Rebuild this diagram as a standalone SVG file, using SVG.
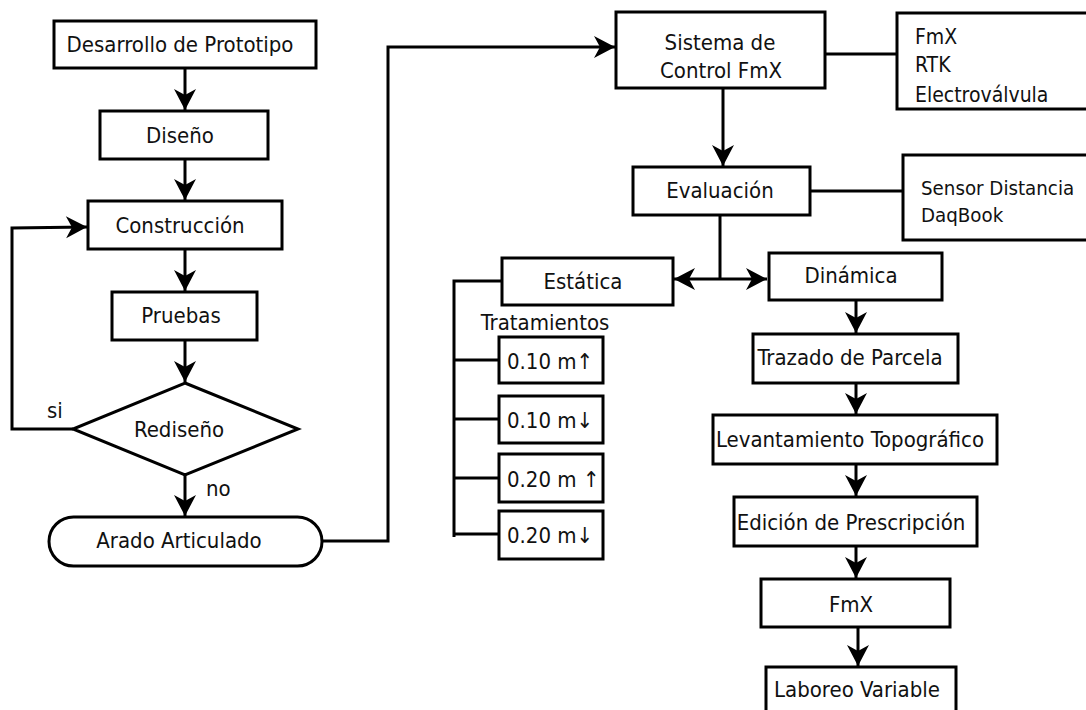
<svg xmlns="http://www.w3.org/2000/svg" width="1086" height="710" viewBox="0 0 1086 710">
<style>
.b{fill:#fff;stroke:#000;stroke-width:3}
.c{fill:none;stroke:#000;stroke-width:3}
text{font-family:"DejaVu Sans Condensed","DejaVu Sans",sans-serif;font-stretch:condensed;font-size:22px;fill:#111}
.m{text-anchor:middle}
.s{font-size:21px}
.s2{font-size:20.3px}
</style>
<defs>
<marker id="ar" markerUnits="userSpaceOnUse" viewBox="-22 -12 24 24" refX="0" refY="0" markerWidth="24" markerHeight="24" orient="auto-start-reverse">
<path d="M0,0 L-21,-11 L-15,0 L-21,11 Z" fill="#000"/>
</marker>
</defs>
<rect width="1086" height="710" fill="#fff"/>
<g id="connectors">
<line class="c" x1="185" y1="68" x2="185" y2="110" marker-end="url(#ar)"/>
<line class="c" x1="185" y1="159" x2="185" y2="200" marker-end="url(#ar)"/>
<line class="c" x1="185" y1="249" x2="185" y2="291" marker-end="url(#ar)"/>
<line class="c" x1="185" y1="340" x2="185" y2="382" marker-end="url(#ar)"/>
<line class="c" x1="185" y1="475" x2="185" y2="516" marker-end="url(#ar)"/>
<polyline class="c" points="73,429 12,429 12,228 87,227" marker-end="url(#ar)"/>
<polyline class="c" points="322,541 388,541 388,47 615,47" marker-end="url(#ar)"/>
<line class="c" x1="825" y1="54" x2="897" y2="54"/>
<line class="c" x1="723" y1="88" x2="723" y2="166" marker-end="url(#ar)"/>
<line class="c" x1="810" y1="191" x2="903" y2="191"/>
<line class="c" x1="720" y1="215" x2="720" y2="279"/>
<line class="c" x1="674" y1="279" x2="767" y2="279" marker-start="url(#ar)" marker-end="url(#ar)"/>
<polyline class="c" points="502,281 454,281 454,537"/>
<line class="c" x1="454" y1="360" x2="499" y2="360"/>
<line class="c" x1="454" y1="419" x2="499" y2="419"/>
<line class="c" x1="454" y1="478" x2="499" y2="478"/>
<line class="c" x1="454" y1="534" x2="499" y2="534"/>
<line class="c" x1="856" y1="300" x2="856" y2="333" marker-end="url(#ar)"/>
<line class="c" x1="856" y1="383" x2="856" y2="414" marker-end="url(#ar)"/>
<line class="c" x1="856" y1="464" x2="856" y2="496" marker-end="url(#ar)"/>
<line class="c" x1="856" y1="546" x2="856" y2="578" marker-end="url(#ar)"/>
<line class="c" x1="858" y1="627" x2="858" y2="666" marker-end="url(#ar)"/>
</g>
<g id="desarrollo"><rect class="b" x="54" y="21" width="262" height="47"/><text class="m" x="180" y="52">Desarrollo de Prototipo</text></g>
<g id="diseno"><rect class="b" x="100" y="111" width="168" height="48"/><text class="m" x="180" y="143">Diseño</text></g>
<g id="construccion"><rect class="b" x="88" y="201" width="194" height="48"/><text class="m" x="180" y="233">Construcción</text></g>
<g id="pruebas"><rect class="b" x="112" y="292" width="145" height="48"/><text class="m" x="181" y="323">Pruebas</text></g>
<g id="rediseno"><polygon class="b" points="185,383 298,429 185,475 73,429"/><text class="m" x="179" y="437">Rediseño</text></g>
<g id="label-si"><text x="47" y="418">si</text></g>
<g id="label-no"><text x="206" y="496">no</text></g>
<g id="arado"><rect class="b" x="49" y="517" width="273" height="49" rx="24.5"/><text class="m" x="179" y="548">Arado Articulado</text></g>
<g id="sistema"><rect class="b" x="616" y="12" width="209" height="76"/><text class="m" x="720" y="50">Sistema de</text><text class="m" x="721" y="78">Control FmX</text></g>
<g id="componentes"><rect class="b" x="897" y="13" width="200" height="96"/><text class="s" x="915" y="44">FmX</text><text class="s" x="915" y="72">RTK</text><text class="s" x="915" y="102">Electroválvula</text></g>
<g id="evaluacion"><rect class="b" x="633" y="167" width="177" height="48"/><text class="m" x="720" y="198">Evaluación</text></g>
<g id="sensores"><rect class="b" x="903" y="155" width="200" height="85"/><text class="s2" x="921" y="195">Sensor Distancia</text><text class="s2" x="921" y="222">DaqBook</text></g>
<g id="estatica"><rect class="b" x="502" y="258" width="171" height="47"/><text class="m" x="583" y="289">Estática</text></g>
<g id="tratamientos"><text class="m" x="545" y="330">Tratamientos</text></g>
<g id="t1"><rect class="b" x="499" y="337" width="104" height="46"/><text x="507" y="369">0.10 m↑</text></g>
<g id="t2"><rect class="b" x="499" y="396" width="104" height="47"/><text x="507" y="428">0.10 m↓</text></g>
<g id="t3"><rect class="b" x="499" y="454" width="104" height="48"/><text x="507" y="487">0.20 m ↑</text></g>
<g id="t4"><rect class="b" x="499" y="511" width="104" height="48"/><text x="507" y="543">0.20 m↓</text></g>
<g id="dinamica"><rect class="b" x="769" y="253" width="173" height="47"/><text class="m" x="851" y="283">Dinámica</text></g>
<g id="trazado"><rect class="b" x="753" y="334" width="205" height="49"/><text class="m" x="850" y="365">Trazado de Parcela</text></g>
<g id="levantamiento"><rect class="b" x="713" y="415" width="284" height="49"/><text class="m" x="850" y="447">Levantamiento Topográfico</text></g>
<g id="edicion"><rect class="b" x="734" y="497" width="243" height="49"/><text class="m" x="851" y="530">Edición de Prescripción</text></g>
<g id="fmx"><rect class="b" x="761" y="579" width="189" height="48"/><text class="m" x="851" y="612">FmX</text></g>
<g id="laboreo"><rect class="b" x="766" y="667" width="190" height="60"/><text class="m" x="857" y="697">Laboreo Variable</text></g>
</svg>
